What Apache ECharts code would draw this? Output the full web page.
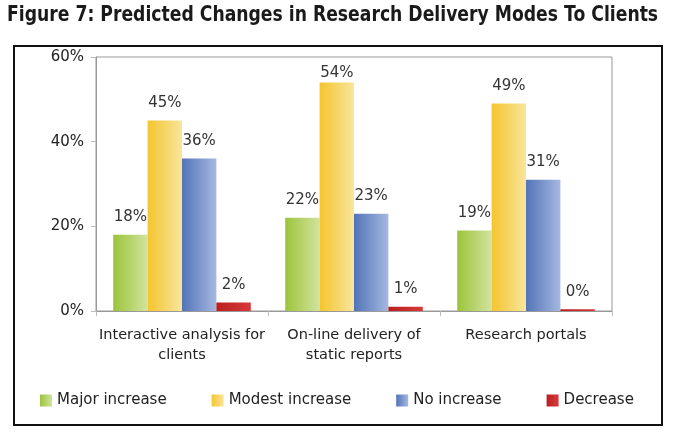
<!DOCTYPE html>
<html><head><meta charset="utf-8">
<script src="https://cdn.jsdelivr.net/npm/echarts@6/dist/echarts.min.js"></script>
<style>html,body{margin:0;padding:0;background:#fff}#c{width:675px;height:435px}</style>
</head><body><div id="c"></div>
<script>
const titleText = 'Figure 7: Predicted Changes in Research Delivery Modes To Clients';
const categories = ['Interactive analysis for\nclients', 'On-line delivery of\nstatic reports', 'Research portals'];
const seriesNames = ['Major increase', 'Modest increase', 'No increase', 'Decrease'];
const majorIncrease = [18, 22, 19];
const modestIncrease = [45, 54, 49];
const noIncrease = [36, 23, 31];
const decrease = [2, 1, 0.4];
const yTicks = [0, 20, 40, 60];

const grads = [
  ['#9cc43a', '#d2e39e'],
  ['#f4c52e', '#f9e59c'],
  ['#5274b8', '#a5b8e0'],
  ['#b8201f', '#d8393a']
];
function grad(c) {
  return new echarts.graphic.LinearGradient(0, 0, 1, 0, [{offset: 0, color: c[0]}, {offset: 1, color: c[1]}]);
}
const values = [majorIncrease, modestIncrease, noIncrease, decrease];
const font = 'DejaVu Sans';
const chart = echarts.init(document.getElementById('c'));
chart.setOption({
  animation: false,
  graphic: [{
    type: 'rect', shape: {x: 14, y: 46, width: 648, height: 379},
    style: {fill: 'none', stroke: '#111', lineWidth: 2}, z: -1
  }, {
    type: 'text', x: 7, y: 5, scaleX: 0.82,
    style: {text: titleText, font: 'bold 21px "DejaVu Sans"', fill: '#1a1a1a', textVerticalAlign: 'top'}
  }],
  legend: {
    bottom: 22, left: 35, itemGap: 45, itemWidth: 12, itemHeight: 12,
    icon: 'rect',
    textStyle: {fontFamily: font, fontSize: 15, color: '#222'},
    data: seriesNames
  },
  grid: {left: 96, right: 63, top: 57, bottom: 124, show: true, borderColor: '#999', borderWidth: 1},
  xAxis: {
    type: 'category', data: categories,
    axisLine: {lineStyle: {color: '#999'}},
    axisTick: {show: true, lineStyle: {color: '#bbb'}},
    axisLabel: {interval: 0, fontFamily: font, fontSize: 14.5, color: '#222', lineHeight: 20, margin: 14}
  },
  yAxis: {
    type: 'value', min: 0, max: 60, interval: 20,
    splitLine: {show: false},
    axisLine: {show: true, lineStyle: {color: '#999'}},
    axisTick: {show: true, lineStyle: {color: '#bbb'}},
    axisLabel: {formatter: v => v + '%', fontFamily: font, fontSize: 15, color: '#222', margin: 12}
  },
  series: seriesNames.map((n, i) => ({
    name: n, type: 'bar',
    data: values[i].map(v => v > 52 ? {value: v, label: {distance: 2}} : v),
    barGap: '0%', barCategoryGap: '20%',
    itemStyle: {color: grad(grads[i])},
    label: {show: true, position: 'top', distance: 10, formatter: p => Math.round(p.value) + '%',
      fontFamily: font, fontSize: 15, color: '#333'}
  }))
});
</script></body></html>
